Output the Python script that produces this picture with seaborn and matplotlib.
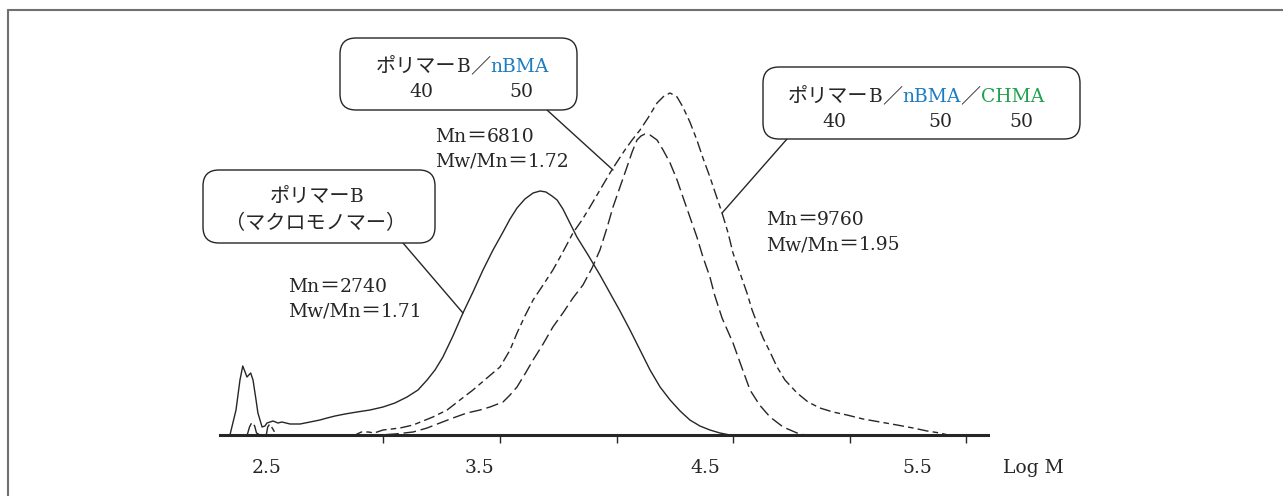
import numpy as np
import pandas as pd
import matplotlib
matplotlib.use("Agg")
import matplotlib.pyplot as plt
import seaborn as sns
from matplotlib.patches import FancyBboxPatch
from matplotlib.lines import Line2D
from matplotlib.transforms import IdentityTransform

# ---------------- data (Log M vs. detector intensity, a.u.) ----------------
# polymer B (macromonomer), solid
logm_b = [2.341, 2.367, 2.384, 2.396, 2.406, 2.414, 2.430, 2.440, 2.453, 2.461, 2.479, 2.491,
          2.500, 2.526, 2.547, 2.564, 2.599, 2.642, 2.685, 2.727, 2.758, 2.792, 2.835, 2.886,
          2.942, 2.998, 3.049, 3.101, 3.148, 3.187, 3.221, 3.255, 3.298, 3.341, 3.384, 3.427,
          3.470, 3.513, 3.543, 3.573, 3.607, 3.642, 3.672, 3.697, 3.723, 3.745, 3.770, 3.800,
          3.830, 3.878, 3.929, 3.972, 4.015, 4.058, 4.101, 4.144, 4.187, 4.230, 4.273, 4.315,
          4.358, 4.401, 4.444, 4.487]
int_b = [0, 25, 55, 69, 63, 58, 62, 55, 35, 22, 8, 9,
         12, 14, 12, 13, 11, 11, 13, 15, 17, 19, 21, 23,
         25, 28, 32, 38, 45, 55, 65, 78, 99, 122, 143, 165,
         185, 203, 216, 227, 236, 242, 244, 243, 239, 235, 226, 212,
         198, 180, 160, 142, 124, 105, 85, 65, 48, 35, 24, 15,
         9, 5, 2, 0]

# polymer B / nBMA / CHMA (tall peak, long tail)
logm_c = [2.497, 2.503, 2.512, 2.525, 2.540,
          2.878, 2.905, 2.935, 2.960, 2.998, 3.071, 3.127, 3.212, 3.273, 3.328, 3.384, 3.444,
          3.500, 3.543, 3.573, 3.607, 3.642, 3.685, 3.727, 3.770, 3.813, 3.852, 3.886, 3.929,
          3.972, 4.002, 4.036, 4.067, 4.101, 4.135, 4.174, 4.204, 4.230, 4.260, 4.285, 4.315,
          4.345, 4.371, 4.401, 4.427, 4.453, 4.479, 4.500, 4.530, 4.560, 4.582, 4.603, 4.629,
          4.659, 4.689, 4.723, 4.775, 4.822, 4.873, 4.929, 4.989, 5.058, 5.131, 5.204, 5.273,
          5.333, 5.388, 5.423]
int_c = [0, 8, 11, 6, 0,
         0, 3, 3, 2, 5, 7, 10, 18, 25, 35, 45, 57,
         68, 85, 102, 119, 135, 150, 165, 183, 202, 215, 228, 245,
         262, 273, 285, 295, 305, 317, 332, 339, 342, 338, 328, 313,
         295, 277, 258, 240, 222, 202, 182, 162, 142, 125, 112, 97,
         83, 68, 55, 42, 33, 27, 23, 20, 16, 13, 10, 7,
         4, 2, 0]

# polymer B / nBMA (shoulder at ~3.5)
logm_n = [2.415, 2.425, 2.436, 2.447, 2.455, 2.470,
          2.985, 3.049, 3.127, 3.187, 3.242, 3.298, 3.358, 3.414, 3.457, 3.513, 3.543, 3.573,
          3.607, 3.642, 3.685, 3.727, 3.770, 3.813, 3.856, 3.895, 3.929, 3.959, 3.985, 4.015,
          4.045, 4.067, 4.088, 4.105, 4.122, 4.144, 4.174, 4.200, 4.230, 4.260, 4.285, 4.315,
          4.345, 4.371, 4.401, 4.421, 4.453, 4.500, 4.534, 4.573, 4.614, 4.659, 4.715, 4.775,
          4.809]
int_n = [0, 8, 13, 9, 2, 0,
         0, 1, 3, 7, 12, 17, 22, 25, 28, 33, 40, 48,
         61, 75, 91, 108, 122, 137, 150, 167, 185, 207, 228, 248,
         268, 283, 295, 299, 301, 300, 295, 285, 272, 255, 238, 218,
         198, 178, 158, 140, 117, 92, 70, 45, 30, 18, 8, 2,
         0]

tick_positions = [2.5, 3.0, 3.5, 4.0, 4.5, 5.0, 5.5]
label_positions = [2.50, 3.41, 4.38, 5.29]
label_texts = ["2.5", "3.5", "4.5", "5.5"]
axis_title = "Log M"

INK = "#262626"
BLUE = "#1b7cc1"
GREEN = "#1fa24c"

# ---------------- figure ----------------
sns.set_theme(style="white")
plt.rcParams['font.family'] = ['DejaVu Serif', 'Noto Sans CJK JP']

W, H = 1283, 496
fig = plt.figure(figsize=(W / 100, H / 100), dpi=100)
fig.patch.set_facecolor("white")
ax = fig.add_axes([220 / W, 61 / H, 768 / W, 425 / H])
ax.patch.set_alpha(0)

df_b = pd.DataFrame({"logM": logm_b, "I": int_b})
df_c = pd.DataFrame({"logM": logm_c, "I": int_c})
df_n = pd.DataFrame({"logM": logm_n, "I": int_n})

sns.lineplot(data=df_b, x="logM", y="I", ax=ax, color=INK, linewidth=1.0,
             sort=False, estimator=None)
sns.lineplot(data=df_c, x="logM", y="I", ax=ax, color=INK, linewidth=1.0,
             sort=False, estimator=None)
ax.lines[-1].set_linestyle((0, (8, 3, 4, 3)))
sns.lineplot(data=df_n, x="logM", y="I", ax=ax, color=INK, linewidth=1.0,
             sort=False, estimator=None)
ax.lines[-1].set_linestyle((0, (9, 3.5)))

ax.set_xlim(2.2983, 5.5944)
ax.set_ylim(0, 425)
ax.set_xlabel("")
ax.set_ylabel("")
ax.set_yticks([])
for s in ["left", "top", "right"]:
    ax.spines[s].set_visible(False)
ax.spines["bottom"].set_linewidth(2.2)
ax.spines["bottom"].set_color(INK)

ax.set_xticks(tick_positions, minor=True)
ax.set_xticks(label_positions, label_texts)
ax.tick_params(axis="x", which="both", bottom=True, direction="out", color=INK)
ax.tick_params(axis="x", which="minor", length=5.8, width=1.0)
ax.tick_params(axis="x", which="major", length=0, pad=17, labelsize=13.5, labelcolor=INK)

# ---------------- text helpers (positions in image pixels, y downwards) ----------------
renderer = fig.canvas.get_renderer()


def runs(s):
    out = []
    for ch in s:
        kind = "L" if ord(ch) < 128 else "C"
        if out and out[-1][0] == kind:
            out[-1][1] += ch
        else:
            out.append([kind, ch])
    return out


def rich(x, y, parts, ha="left"):
    texts = []
    for txt, col in parts:
        for kind, s in runs(txt):
            if kind == "L":
                t = fig.text(0, 0, s, fontfamily="DejaVu Serif", fontsize=13.5, color=col,
                             transform=IdentityTransform(), va="baseline", ha="left")
            else:
                t = fig.text(0, 0, s, fontfamily="Noto Sans CJK JP", fontsize=14.5, color=col,
                             transform=IdentityTransform(), va="baseline", ha="left")
            texts.append(t)
    widths = [t.get_window_extent(renderer).width for t in texts]
    total = sum(widths)
    x0 = x - total / 2 if ha == "center" else x
    yb = H - (y + 7)
    for t, w in zip(texts, widths):
        t.set_position((x0, yb))
        x0 += w


def rbox(x0, y0, x1, y1):
    p = FancyBboxPatch((x0, H - y1), x1 - x0, y1 - y0,
                       boxstyle="round,pad=0,rounding_size=16",
                       transform=IdentityTransform(), fc="white", ec=INK, lw=1.0)
    fig.add_artist(p)


def leader(xy_data, x_px, y_px):
    ax.annotate("", xy=xy_data, xycoords="data", xytext=(x_px, H - y_px),
                textcoords="figure pixels", annotation_clip=False,
                arrowprops=dict(arrowstyle="-", lw=1.0, color=INK, shrinkA=0, shrinkB=0))


# frame (top & left)
fig.add_artist(Line2D([8, 8], [0, H - 10], transform=IdentityTransform(), color="#707070", lw=1.5))
fig.add_artist(Line2D([8, W], [H - 10, H - 10], transform=IdentityTransform(), color="#707070", lw=1.5))

# box: polymer B / nBMA
rbox(340, 38, 577, 110)
rich(376, 65, [("ポリマーB／", INK), ("nBMA", BLUE)])
rich(421, 90, [("40", INK)], ha="center")
rich(521, 90, [("50", INK)], ha="center")
leader((3.985, 265), 547, 110)
rich(435, 135, [("Mn＝6810", INK)])
rich(435, 160, [("Mw/Mn＝1.72", INK)])

# box: polymer B (macromonomer)
rbox(203, 170, 435, 243)
rich(317, 195, [("ポリマーB", INK)], ha="center")
rich(316, 222, [("（マクロモノマー）", INK)], ha="center")
leader((3.341, 122), 403, 243)
rich(288, 285, [("Mn＝2740", INK)])
rich(288, 310, [("Mw/Mn＝1.71", INK)])

# box: polymer B / nBMA / CHMA
rbox(763, 67, 1080, 139)
rich(788, 95, [("ポリマーB／", INK), ("nBMA", BLUE), ("／", INK), ("CHMA", GREEN)])
rich(834, 120, [("40", INK)], ha="center")
rich(940, 120, [("50", INK)], ha="center")
rich(1021, 120, [("50", INK)], ha="center")
leader((4.453, 222), 787, 139)
rich(766, 218, [("Mn＝9760", INK)])
rich(766, 243, [("Mw/Mn＝1.95", INK)])

# axis title
rich(1003, 466, [(axis_title, INK)])

fig.savefig("out.png", dpi=100, facecolor="white")
